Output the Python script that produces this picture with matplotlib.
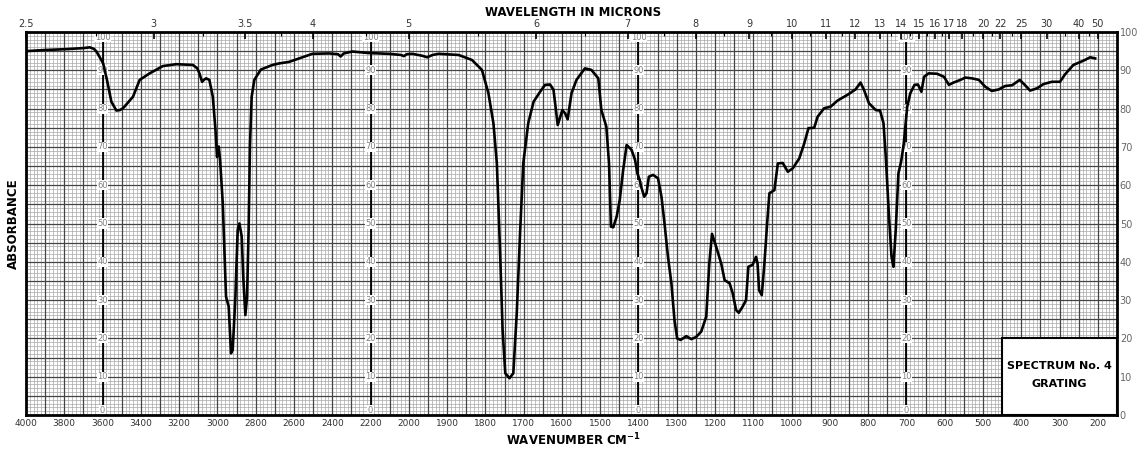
import numpy as np
import matplotlib
matplotlib.use('Agg')
import matplotlib.pyplot as plt
from matplotlib.patches import Rectangle

# spectrum trace (wavenumber cm-1, % scale)
wavenumber = [4000, 3900, 3800, 3700, 3667, 3645, 3632, 3610, 3597, 3577, 3554, 3528, 3510, 3493,
              3441, 3406, 3354, 3285, 3215, 3128, 3105, 3094, 3080, 3068, 3059, 3042, 3024, 3010,
              3002, 2993, 2986, 2972, 2964, 2955, 2941, 2929, 2920, 2906, 2894, 2885, 2873, 2865,
              2854, 2845, 2837, 2830, 2821, 2807, 2773, 2712, 2677, 2625, 2573, 2504, 2417, 2370,
              2356, 2340, 2295, 2208, 2104, 2040, 2026, 2010, 1991, 1965, 1952, 1938, 1922, 1870,
              1835, 1809, 1792, 1779, 1770, 1762, 1755, 1748, 1737, 1727, 1718, 1709, 1701, 1688,
              1674, 1657, 1644, 1631, 1622, 1611, 1599, 1592, 1585, 1575, 1562, 1540, 1523, 1505,
              1497, 1484, 1477, 1472, 1466, 1457, 1449, 1440, 1431, 1418, 1409, 1403, 1397, 1393,
              1385, 1379, 1373, 1362, 1349, 1340, 1332, 1323, 1314, 1306, 1299, 1290, 1275, 1262,
              1249, 1236, 1223, 1215, 1208, 1197, 1184, 1175, 1162, 1154, 1145, 1138, 1128, 1119,
              1113, 1102, 1093, 1089, 1085, 1078, 1071, 1064, 1058, 1045, 1036, 1023, 1010, 997,
              980, 967, 956, 941, 932, 915, 898, 880, 854, 833, 820, 811, 798, 780, 769, 760, 754,
              746, 739, 734, 728, 721, 714, 707, 698, 690, 679, 670, 661, 654, 642, 620, 602, 589,
              577, 559, 546, 529, 511, 494, 477, 459, 442, 424, 404, 390, 377, 359, 342, 320, 299,
              286, 264, 238, 220, 207]
signal = [95.0, 95.3, 95.5, 95.8, 96.0, 95.6, 94.9, 93.0, 91.8, 87.5, 81.8, 79.5, 79.6, 80.1,
          83.1, 87.5, 89.2, 91.1, 91.6, 91.4, 90.5, 89.2, 87.0, 87.6, 87.9, 87.5, 83.1, 74.4,
          67.4, 70.1, 66.6, 55.3, 43.9, 30.9, 28.3, 16.1, 17.0, 30.9, 48.3, 50.0, 46.6, 36.1,
          26.1, 30.9, 48.3, 70.1, 83.1, 87.5, 90.2, 91.4, 91.8, 92.2, 93.1, 94.3, 94.4, 94.2,
          93.6, 94.4, 94.9, 94.5, 94.3, 94.0, 93.7, 94.2, 94.3, 93.8, 93.4, 94.0, 94.3, 94.0,
          92.7, 90.1, 84.0, 76.2, 65.7, 43.9, 22.2, 10.9, 9.6, 10.9, 26.6, 48.3, 65.7, 76.2,
          81.8, 84.4, 86.2, 86.3, 84.9, 75.7, 79.6, 78.8, 77.2, 84.0, 87.5, 90.5, 90.1, 87.9,
          79.6, 75.3, 65.7, 49.2, 49.0, 51.8, 56.1, 64.0, 70.5, 69.2, 66.6, 63.1, 61.4, 59.6,
          57.0, 57.9, 62.2, 62.7, 61.8, 57.0, 50.0, 41.3, 34.4, 24.8, 20.0, 19.6, 20.6, 19.8,
          20.4, 21.8, 25.7, 39.6, 47.3, 43.9, 39.6, 35.2, 34.4, 31.8, 27.4, 26.7, 28.3, 30.0,
          38.7, 39.2, 41.3, 39.6, 32.6, 31.3, 39.6, 50.0, 57.9, 58.7, 65.7, 65.8, 63.5, 64.4,
          67.0, 70.9, 74.9, 75.0, 77.9, 80.1, 80.5, 82.1, 83.6, 85.0, 86.8, 84.9, 81.4, 79.6, 79.5, 76.2, 67.4,
          52.6, 41.3, 38.7, 48.3, 63.1, 66.1, 70.9, 80.5, 84.0, 86.2, 86.3, 84.4, 88.3, 89.2, 89.1, 88.3, 86.2,
          86.8, 87.5, 88.1, 87.9, 87.5, 85.7, 84.6, 85.0, 85.9, 86.1, 87.5, 86.1, 84.7, 85.3, 86.4, 87.0, 87.0,
          88.9, 91.4, 92.5, 93.4, 93.1]

bottom_ticks = [4000, 3800, 3600, 3400, 3200, 3000, 2800, 2600, 2400, 2200,
                2000, 1900, 1800, 1700, 1600, 1500, 1400, 1300, 1200, 1100,
                1000, 900, 800, 700, 600, 500, 400, 300, 200]
microns = [2.5, 3, 3.5, 4, 5, 6, 7, 8, 9, 10, 11, 12, 13, 14, 15, 16, 17, 18, 20, 22, 25, 30, 40, 50]
micron_labels = ['2.5', '3', '3.5', '4', '5', '6', '7', '8', '9', '10', '11', '12', '13', '14',
                 '15', '16', '17', '18', '20', '22', '25', '30', '40', '50']
micron_minor = [2.75, 3.25, 3.75, 4.5, 5.5, 6.5, 7.5, 8.5, 9.5, 10.5, 11.5, 12.5, 13.5,
                14.5, 15.5, 16.5, 19, 21, 23.5, 35, 45]
scale_cols = [3600, 2200, 1400, 700]


def fwd(w):
    # chart paper runs at half scale above 2000 cm-1
    w = np.asarray(w, dtype=float)
    return np.where(w < 2000, w, 2000 + (w - 2000) / 2)


def inv(v):
    v = np.asarray(v, dtype=float)
    return np.where(v < 2000, v, 2000 + (v - 2000) * 2)


def draw_paper(ax):
    fine_x = np.concatenate([np.arange(4000, 2000, -20), np.arange(2000, 150, -10)])
    major_x = np.concatenate([np.arange(4000, 2000, -100), np.arange(2000, 150, -50)])
    ax.vlines(fine_x, 0, 100, colors='#a8a8a8', lw=0.5, zorder=1)
    ax.hlines(np.arange(1, 100), 4000, 150, colors='#a8a8a8', lw=0.5, zorder=1)
    ax.vlines(major_x, 0, 100, colors='#444444', lw=0.9, zorder=2)
    ax.hlines(np.arange(5, 100, 5), 4000, 150, colors='#444444', lw=0.9, zorder=2)
    ax.vlines(scale_cols, 0, 100, colors='black', lw=1.3, zorder=2)
    for x in scale_cols:
        for v in range(0, 101, 10):
            y = v
            if v == 0:
                y = 1.3
            elif v == 100:
                y = 98.6
            ax.text(x, y, str(v), ha='center', va='center', fontsize=6, color='#808080',
                    bbox=dict(fc='white', ec='none', pad=0.4), zorder=3)


def main():
    fig = plt.figure(figsize=(11.41, 4.54), dpi=100)
    ax = fig.add_axes([26 / 1141, 39 / 454, 1091 / 1141, 383 / 454])
    ax.set_xscale('function', functions=(fwd, inv))
    ax.set_xlim(4000, 150)
    ax.set_ylim(0, 100)

    draw_paper(ax)
    ax.plot(wavenumber, signal, color='black', lw=1.9, zorder=5, solid_joinstyle='round')

    box = Rectangle((150, 0), 300, 20, facecolor='white', edgecolor='black', lw=1.5, zorder=6)
    ax.add_patch(box)
    ax.text(300, 12.8, 'SPECTRUM No. 4', ha='center', va='center', fontsize=8,
            fontweight='bold', zorder=7)
    ax.text(300, 8.2, 'GRATING', ha='center', va='center', fontsize=8,
            fontweight='bold', zorder=7)

    ax.set_xticks(bottom_ticks, [str(t) for t in bottom_ticks])
    ax.tick_params(axis='x', length=0, pad=3, labelsize=6.5, labelcolor='#333333')
    ax.yaxis.tick_right()
    ax.set_yticks(range(0, 101, 10))
    ax.tick_params(axis='y', length=0, pad=2, labelsize=7, labelcolor='#666666')
    for s in ax.spines.values():
        s.set_linewidth(2)
        s.set_zorder(8)

    top = fig.add_axes(ax.get_position(), frameon=False)
    top.set_xscale('function', functions=(fwd, inv))
    top.set_xlim(4000, 150)
    top.xaxis.tick_top()
    top.set_xticks([1e4 / m for m in microns], micron_labels)
    top.set_xticks([1e4 / m for m in micron_minor], minor=True)
    top.tick_params(axis='x', which='major', direction='in', length=5, width=1.2,
                    pad=2, labelsize=7, labelcolor='#333333')
    top.tick_params(axis='x', which='minor', direction='in', length=3, width=0.8)
    top.set_yticks([])
    top.patch.set_visible(False)

    fig.text(573 / 1141, 1 - 12 / 454, 'WAVELENGTH IN MICRONS', ha='center', va='center',
             fontsize=8.5, fontweight='bold')
    fig.text(573 / 1141, 1 - 440 / 454, 'WAVENUMBER CM$^{\\mathbf{-1}}$', ha='center', va='center',
             fontsize=8.5, fontweight='bold')
    fig.text(13 / 1141, 1 - 224 / 454, 'ABSORBANCE', ha='center', va='center', rotation=90,
             fontsize=8.5, fontweight='bold')

    fig.savefig('out.png', dpi=100)


if __name__ == '__main__':
    main()
